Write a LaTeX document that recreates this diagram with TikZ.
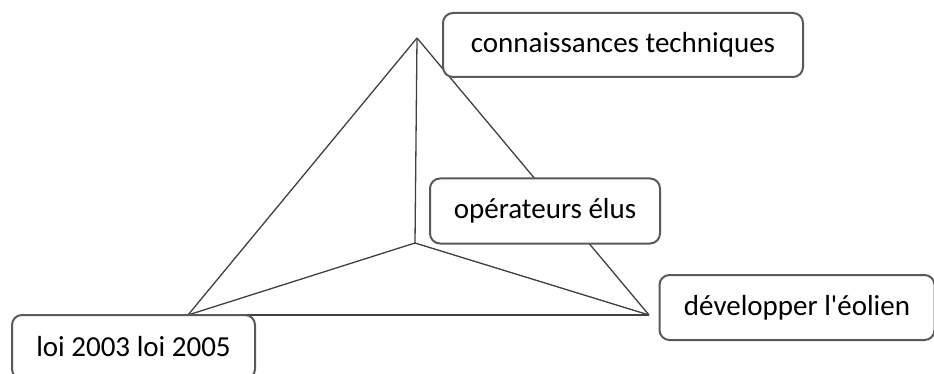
\documentclass[tikz,border=0pt]{standalone}
\usepackage{fontspec}
\setmainfont{Carlito}
\usepackage{tikz}
\usetikzlibrary{positioning}

\begin{document}
\begin{tikzpicture}[
			x=1pt, y=-1pt,
			edge/.style={draw=black!75, line width=1.3pt},
			labelbox/.style={rectangle, rounded corners=10pt, draw=black!65, line width=2pt, fill=white, inner sep=0pt, font=\fontsize{29}{34}\selectfont},
		]
		
			\useasboundingbox (0,0) rectangle (934,374);
		
			%Vertices
			\coordinate (apex)	at (417,38);
			\coordinate (mid)	at (415,243);
			\coordinate (left)	at (188,315);
			\coordinate (right)	at (649,315);
		
			%Lines
			\draw[edge]	(apex) -- (left);
			\draw[edge]	(apex) -- (right);
			\draw[edge]	(apex) -- (mid);
			\draw[edge]	(mid) -- (left);
			\draw[edge]	(mid) -- (right);
			\draw[edge]	(left) -- (right);
		
			%Nodes
			\node[labelbox, minimum width=360pt, minimum height=64pt]	(tech)	at (623,45)		{connaissances techniques};
			\node[labelbox, minimum width=230pt, minimum height=65pt]	(elus)	at (545,211)	{opérateurs élus};
			\node[labelbox, minimum width=275pt, minimum height=65pt]	(eolien)	at (797,307.5)	{développer l\textquotesingle éolien};
			\node[labelbox, minimum width=243pt, minimum height=64pt]	(loi)	at (133.5,347)	{loi 2003 loi 2005};
		
		\end{tikzpicture}
\end{document}
